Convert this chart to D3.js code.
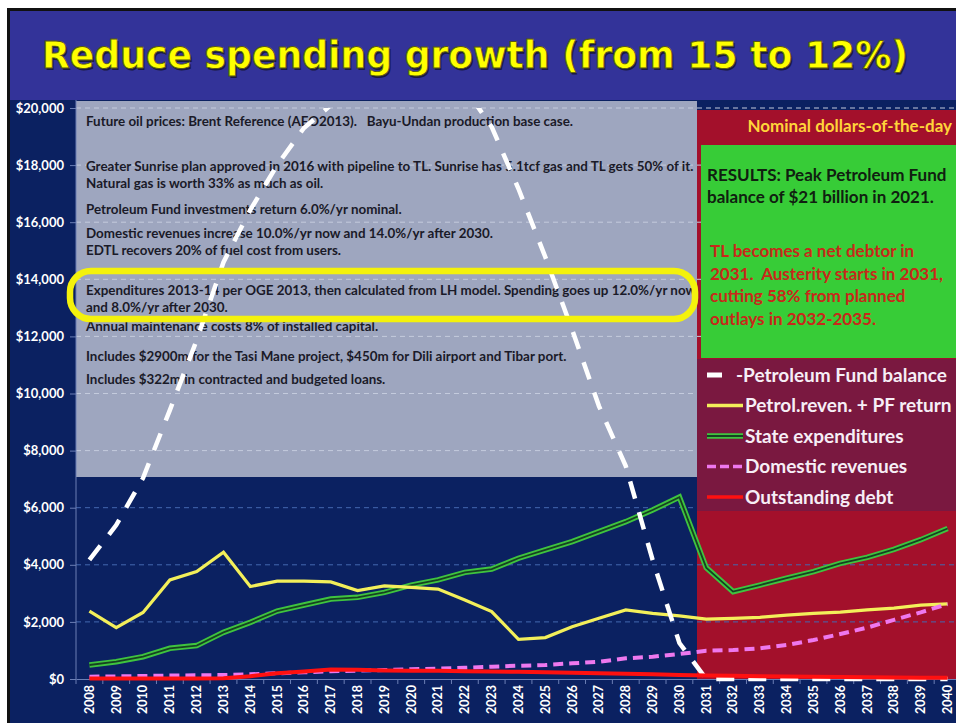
<!DOCTYPE html>
<html>
<head>
<meta charset="utf-8">
<script src="https://cdn.jsdelivr.net/npm/d3@7"></script>
<style>
  html, body { margin: 0; padding: 0; background: #fff; }
  svg { display: block; font-family: Lato, "Open Sans", sans-serif; }
  svg text { white-space: pre; }
</style>
</head>
<body>
<div id="chart"></div>
<script>
// categories
const years = ['2008', '2009', '2010', '2011', '2012', '2013', '2014', '2015', '2016', '2017', '2018',
  '2019', '2020', '2021', '2022', '2023', '2024', '2025', '2026', '2027', '2028', '2029', '2030',
  '2031', '2032', '2033', '2034', '2035', '2036', '2037', '2038', '2039', '2040'];

// series values (US$ million, nominal)
const pfBalance = [4170, 5390, 7040, 9420, 11870, 14600, 16430, 18000, 19300, 20100, 20500,
  20800, 20950, 21000, 20700, 19340, 17170, 14780, 12230, 9560, 7460, 4170, 1260,
  0, 0, 0, 0, 0, 0, 0, 0, 0, 0];
const petrolRevenue = [2380, 1800, 2330, 3470, 3760, 4440, 3240, 3430, 3430, 3400, 3100,
  3260, 3210, 3150, 2770, 2360, 1390, 1450, 1830, 2130, 2420, 2300, 2210,
  2100, 2120, 2160, 2240, 2300, 2340, 2420, 2480, 2590, 2630];
const stateExpenditures = [490, 605, 780, 1075, 1170, 1635, 1985, 2380, 2590, 2800, 2860,
  3035, 3290, 3470, 3735, 3850, 4230, 4520, 4810, 5160, 5510, 5920, 6370,
  3900, 3060, 3290, 3530, 3760, 4050, 4260, 4540, 4880, 5270];
const domesticRevenues = [80, 90, 105, 120, 130, 140, 165, 200, 235, 270, 290,
  315, 340, 360, 395, 430, 465, 490, 550, 605, 725, 780, 875,
  990, 1015, 1075, 1190, 1365, 1575, 1800, 2070, 2335, 2625];
const outstandingDebt = [20, 20, 20, 20, 20, 30, 100, 200, 260, 330, 320,
  300, 290, 290, 270, 260, 250, 235, 220, 200, 185, 165, 140,
  120, 110, 100, 90, 80, 70, 60, 55, 45, 40];

// tick labels
const yTicks = [0, 2000, 4000, 6000, 8000, 10000, 12000, 14000, 16000, 18000, 20000];

// legend labels
const legendLabels = ['-Petroleum Fund balance', 'Petrol.reven. + PF return', 'State expenditures',
  'Domestic revenues', 'Outstanding debt'];

// text annotations
const title = 'Reduce spending growth (from 15 to 12%)';
const notes = [
  'Future oil prices: Brent Reference (AEO2013).   Bayu-Undan production base case.',
  'Greater Sunrise plan approved in 2016 with pipeline to TL. Sunrise has 5.1tcf gas and TL gets 50% of it.',
  'Natural gas is worth 33% as much as oil.',
  'Petroleum Fund investments return 6.0%/yr nominal.',
  'Domestic revenues increase 10.0%/yr now and 14.0%/yr after 2030.',
  'EDTL recovers 20% of fuel cost from users.',
  'Expenditures 2013-14 per OGE 2013, then calculated from LH model. Spending goes up 12.0%/yr now',
  'and 8.0%/yr after 2030.',
  'Annual maintenance costs 8% of installed capital.',
  'Includes $2900m for the Tasi Mane project, $450m for Dili airport and Tibar port.',
  'Includes $322m in contracted and budgeted loans.'
];
const noteBaselines = [126, 171, 188, 214, 238, 255, 295, 312, 331, 361, 384];
const resultsText = ['RESULTS: Peak Petroleum Fund', 'balance of $21 billion in 2021.'];
const warningText = ['TL becomes a net debtor in', '2031.  Austerity starts in 2031,',
  'cutting 58% from planned', 'outlays in 2032-2035.'];

// svg領域
const svgWidth = 956;
const svgHeight = 723;
const svg = d3.select('#chart')
  .append('svg')
  .attr('width', svgWidth)
  .attr('height', svgHeight);

// plot area
const plotLeft = 76, plotRight = 961, plotTop = 108, plotBottom = 679;

const x = d3.scaleBand().domain(years).range([plotLeft, plotRight]);
const xc = d => x(d) + x.bandwidth() / 2;
const y = d3.scaleLinear().domain([0, 20000]).range([plotBottom, plotTop]);

// slide background and frame
svg.append('rect').attr('x', 7).attr('y', 8).attr('width', svgWidth).attr('height', svgHeight)
  .attr('fill', '#0b2161');
svg.append('rect').attr('x', 9).attr('y', 10).attr('width', svgWidth).attr('height', 90)
  .attr('fill', '#333399');
svg.append('path').attr('d', `M8.5,${svgHeight}V9.5H${svgWidth}`)
  .attr('fill', 'none').attr('stroke', '#111').attr('stroke-width', 3);

// title
const titleText = (g, dx, fill, stroke) => g.append('text')
  .attr('x', 475 + dx).attr('y', 68 + dx)
  .attr('text-anchor', 'middle')
  .attr('font-family', '"DejaVu Sans", Verdana, sans-serif')
  .attr('font-size', 37).attr('font-weight', 700)
  .attr('textLength', 866).attr('lengthAdjust', 'spacingAndGlyphs')
  .attr('fill', fill)
  .attr('stroke', stroke).attr('stroke-width', 0.8)
  .text(title);
titleText(svg, 1.5, '#1a1a40', 'none');
titleText(svg, 0, '#ffff00', '#5a5a10');

// background regions
svg.append('rect').attr('x', 697).attr('y', 110).attr('width', svgWidth - 697).attr('height', plotBottom - 110)
  .attr('fill', '#a3102b');
svg.append('rect').attr('x', plotLeft).attr('y', 101).attr('width', 697 - plotLeft).attr('height', 477 - 101)
  .attr('fill', '#9ea6bf');

// gridlines
svg.append('g')
  .selectAll('line')
  .data(yTicks.filter(d => d > 0))
  .join('line')
  .attr('x1', plotLeft).attr('x2', svgWidth)
  .attr('y1', d => y(d)).attr('y2', d => y(d))
  .attr('stroke', d => y(d) < 477 ? '#c4cbdd' : '#4468b0')
  .attr('stroke-width', 1)
  .attr('stroke-dasharray', '5,4');

// axes
const yAxis = d3.axisLeft(y).tickValues(yTicks).tickFormat(d3.format('$,')).tickSize(6).tickPadding(6);
const gy = svg.append('g').attr('transform', `translate(${plotLeft},0)`).call(yAxis);
gy.select('.domain').attr('stroke', '#6c7fb5').attr('d', `M0,100V${plotBottom}`);
gy.selectAll('.tick line').attr('stroke', '#6c7fb5');
gy.selectAll('.tick text')
  .attr('fill', '#fff').attr('font-size', 13).attr('font-weight', 700)
  .attr('font-family', 'Lato, sans-serif');

const xAxis = d3.axisBottom(x).tickSize(0).tickPadding(5);
const gx = svg.append('g').attr('transform', `translate(0,${plotBottom})`).call(xAxis);
gx.select('.domain').attr('stroke', '#6c7fb5');
gx.selectAll('.tick text')
  .attr('fill', '#fff').attr('font-size', 12.5).attr('font-weight', 700)
  .attr('font-family', 'Lato, sans-serif')
  .attr('text-anchor', 'end')
  .attr('dy', '0.35em')
  .attr('transform', 'rotate(-90)')
  .attr('x', -6).attr('y', 0);
// boundary ticks between years
gx.append('g').selectAll('line')
  .data(years)
  .join('line')
  .attr('x1', d => x(d)).attr('x2', d => x(d))
  .attr('y1', 0).attr('y2', 5)
  .attr('stroke', '#6c7fb5');

// notes in grey box
svg.append('g')
  .selectAll('text')
  .data(notes)
  .join('text')
  .attr('x', 86)
  .attr('y', (d, i) => noteBaselines[i])
  .attr('font-size', 13.4)
  .attr('font-weight', 700)
  .attr('fill', '#1a1a28')
  .text(d => d);

// results panel
svg.append('text').attr('x', 952).attr('y', 132)
  .attr('text-anchor', 'end')
  .attr('font-size', 17).attr('font-weight', 700)
  .attr('fill', '#ffd43a')
  .text('Nominal dollars-of-the-day');
svg.append('rect').attr('x', 701).attr('y', 145).attr('width', svgWidth - 701).attr('height', 213)
  .attr('fill', '#37cc37');
svg.append('g')
  .selectAll('text')
  .data(resultsText)
  .join('text')
  .attr('x', 707)
  .attr('y', (d, i) => 181 + i * 22)
  .attr('font-size', 17).attr('font-weight', 700)
  .attr('fill', '#102010')
  .text(d => d);
svg.append('g')
  .selectAll('text')
  .data(warningText)
  .join('text')
  .attr('x', 710)
  .attr('y', (d, i) => 257 + i * 22.7)
  .attr('font-size', 17).attr('font-weight', 700)
  .attr('fill', '#c8281a')
  .text(d => d);

// lines
svg.append('clipPath').attr('id', 'plot-clip')
  .append('rect').attr('x', plotLeft).attr('y', plotTop).attr('width', svgWidth - plotLeft).attr('height', plotBottom - plotTop + 4);
const lines = svg.append('g').attr('clip-path', 'url(#plot-clip)');
const line = d3.line().x((d, i) => xc(years[i])).y(d => y(d));

lines.append('path').datum(stateExpenditures)
  .attr('d', line).attr('fill', 'none')
  .attr('stroke', '#3fc43f').attr('stroke-width', 5.5);
lines.append('path').datum(stateExpenditures)
  .attr('d', line).attr('fill', 'none')
  .attr('stroke', '#164221').attr('stroke-width', 1.8);
lines.append('path').datum(petrolRevenue)
  .attr('d', line).attr('fill', 'none')
  .attr('stroke', '#f3ef5a').attr('stroke-width', 3.2);
lines.append('path').datum(domesticRevenues)
  .attr('d', line).attr('fill', 'none')
  .attr('stroke', '#ee78ee').attr('stroke-width', 4)
  .attr('stroke-dasharray', '10,6');
lines.append('path').datum(pfBalance)
  .attr('d', line).attr('fill', 'none')
  .attr('stroke', '#fff').attr('stroke-width', 4.5)
  .attr('stroke-dasharray', '18,14');
lines.append('path').datum(outstandingDebt)
  .attr('d', line).attr('fill', 'none')
  .attr('stroke', '#ff1010').attr('stroke-width', 4);

// legend
svg.append('rect').attr('x', 697).attr('y', 359).attr('width', svgWidth - 697).attr('height', 152)
  .attr('fill', '#7a1840');
const legendStyles = [
  { color: '#fff', width: 5, dash: null, x1: 707, x2: 722 },
  { color: '#f3ef5a', width: 3.5, dash: null, x1: 707, x2: 743 },
  { color: '#3fc43f', width: 5.5, dash: null, x1: 707, x2: 743, inner: '#164221' },
  { color: '#ee78ee', width: 3.5, dash: '9,4', x1: 707, x2: 743 },
  { color: '#ff1010', width: 3.5, dash: null, x1: 707, x2: 743 }
];
const legend = svg.append('g')
  .selectAll('g')
  .data(legendLabels)
  .join('g')
  .attr('transform', (d, i) => `translate(0,${375 + i * 30.5})`);
legend.append('line')
  .attr('x1', (d, i) => legendStyles[i].x1).attr('x2', (d, i) => legendStyles[i].x2)
  .attr('stroke', (d, i) => legendStyles[i].color)
  .attr('stroke-width', (d, i) => legendStyles[i].width)
  .attr('stroke-dasharray', (d, i) => legendStyles[i].dash);
legend.filter((d, i) => legendStyles[i].inner)
  .append('line')
  .attr('x1', 707).attr('x2', 743)
  .attr('stroke', '#164221').attr('stroke-width', 1.8);
legend.append('text')
  .attr('x', (d, i) => i === 0 ? 736 : 745)
  .attr('dy', '0.35em')
  .attr('font-size', 19).attr('font-weight', 700)
  .attr('fill', '#f6eef6')
  .text(d => d);

// yellow highlight round the spending assumption
svg.append('rect')
  .attr('x', 70).attr('y', 271).attr('width', 625).attr('height', 48)
  .attr('rx', 21).attr('ry', 21)
  .attr('fill', 'none')
  .attr('stroke', '#f4f20c').attr('stroke-width', 6.5);
</script>
</body>
</html>
